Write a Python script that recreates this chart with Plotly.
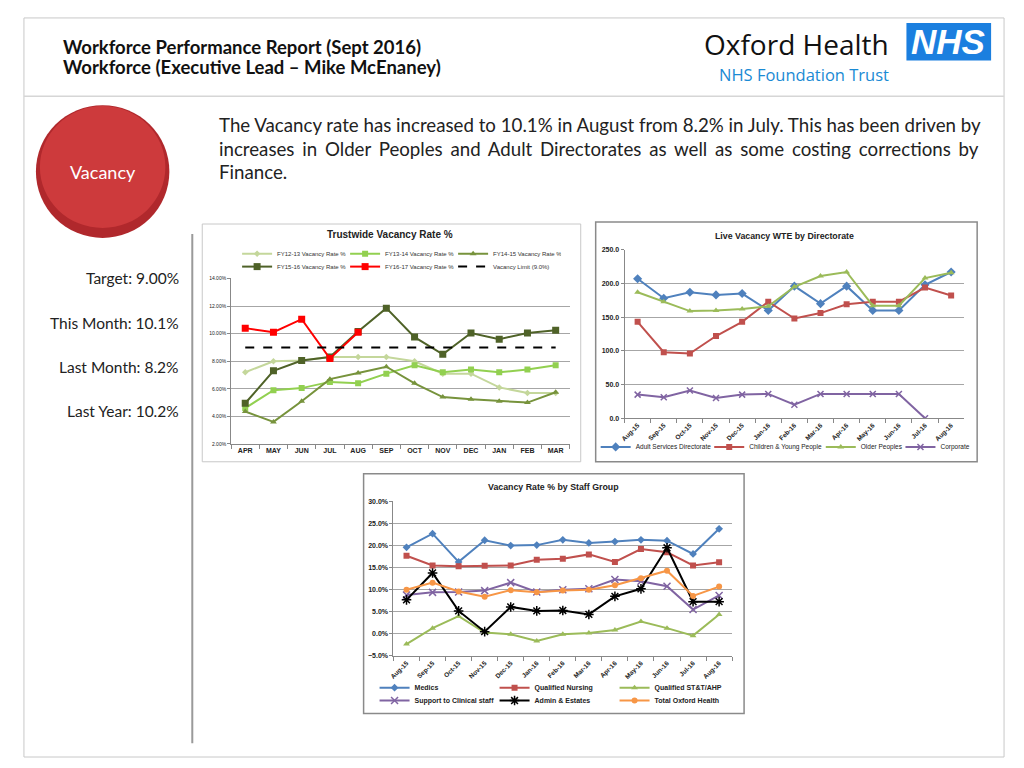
import plotly.graph_objects as go

# page body has an 8px margin, so the figure is drawn 16px smaller and offset
OFF = 8
W, H = 1024 - 2 * OFF, 768 - 2 * OFF

# Trustwide vacancy rate % (financial year months)
fy_months = ['APR', 'MAY', 'JUN', 'JUL', 'AUG', 'SEP', 'OCT', 'NOV', 'DEC', 'JAN', 'FEB', 'MAR']
fy12_13 = [7.2, 8.0, 8.05, 8.3, 8.3, 8.3, 8.0, 7.1, 7.1, 6.1, 5.7, 5.7]
fy13_14 = [4.6, 5.9, 6.05, 6.5, 6.4, 7.1, 7.7, 7.2, 7.4, 7.2, 7.4, 7.7]
fy14_15 = [4.35, 3.6, 5.1, 6.7, 7.15, 7.6, 6.4, 5.4, 5.25, 5.1, 5.0, 5.75]
fy15_16 = [4.95, 7.3, 8.05, 8.3, 10.15, 11.85, 9.75, 8.5, 10.05, 9.6, 10.05, 10.25]
fy16_17 = [10.4, 10.1, 11.05, 8.2, 10.1]
vacancy_limit = 9.0

# Live vacancy WTE by directorate
roll_months = ['Aug-15', 'Sep-15', 'Oct-15', 'Nov-15', 'Dec-15', 'Jan-16', 'Feb-16',
               'Mar-16', 'Apr-16', 'May-16', 'Jun-16', 'Jul-16', 'Aug-16']
adult = [207, 178, 187, 183, 185, 160, 196, 170, 196, 160, 160, 198, 217]
children = [143, 98, 96, 122, 143, 173, 148, 156, 169, 173, 173, 194, 182]
older = [187, 173, 159, 160, 162, 166, 195, 211, 217, 167, 167, 208, 216]
corporate = [35, 31, 41, 30, 35, 36, 20, 36, 36, 36, 36, 0, None]

# Vacancy rate % by staff group
medics = [19.6, 22.7, 16.3, 21.2, 20.0, 20.1, 21.3, 20.6, 20.9, 21.3, 21.1, 18.1, 23.8]
nursing = [17.7, 15.5, 15.3, 15.4, 15.5, 16.8, 17.0, 18.0, 16.3, 19.2, 18.5, 15.5, 16.2]
stt_ahp = [-2.3, 1.3, 4.0, 0.3, -0.1, -1.6, -0.1, 0.2, 0.9, 2.8, 1.3, -0.4, 4.4]
support = [8.8, 9.4, 9.5, 9.8, 11.6, 9.5, 10.0, 10.2, 12.3, 11.9, 10.8, 5.5, 8.7]
admin = [7.7, 13.8, 5.2, 0.5, 6.1, 5.2, 5.3, 4.4, 8.5, 10.2, 19.5, 7.3, 7.3]
total_oh = [10.0, 11.6, 9.6, 8.4, 9.9, 9.4, 9.8, 10.0, 11.0, 12.6, 14.3, 8.6, 10.7]

kpis = ['Target: 9.00%', 'This Month: 10.1%', 'Last Month: 8.2%', 'Last Year: 10.2%']

ARIAL = 'Liberation Sans'
SLIDE = 'Lato'


def px(x):
    return (x - OFF) / W


def py(y):
    return 1 - (y - OFF) / H


def line(fig, name, x, y, color, symbol, axis, legend, size=6, dash='solid', width=2, mline=None):
    marker = dict(symbol=symbol, size=size, color=color)
    if mline:
        marker['line'] = dict(color=mline, width=1.5)
    fig.add_trace(go.Scatter(x=x, y=y, name=name, mode='lines+markers' if symbol else 'lines',
                             line=dict(color=color, width=width, dash=dash),
                             marker=marker, xaxis='x' + axis, yaxis='y' + axis,
                             legend=legend, connectgaps=False))


fig = go.Figure()

# chart 1
line(fig, 'FY12-13 Vacancy Rate %', fy_months, fy12_13, '#c4d79b', 'diamond', '', 'legend', size=5)
line(fig, 'FY13-14 Vacancy Rate %', fy_months, fy13_14, '#92d050', 'square', '', 'legend')
line(fig, 'FY14-15 Vacancy Rate %', fy_months, fy14_15, '#77933c', 'triangle-up', '', 'legend')
line(fig, 'FY15-16 Vacancy Rate %', fy_months, fy15_16, '#4f6228', 'square', '', 'legend4', size=7)
line(fig, 'FY16-17 Vacancy Rate %', fy_months[:len(fy16_17)], fy16_17, '#ff0000', 'square', '', 'legend4', size=7)
line(fig, 'Vacancy Limit (9.0%)', fy_months, [vacancy_limit] * len(fy_months), '#000000', None, '', 'legend4', dash='dash')

# chart 2 (one legend per entry so the row can be packed like the original)
line(fig, 'Adult Services Directorate', roll_months, adult, '#4f81bd', 'diamond', '2', 'legend2', size=7)
line(fig, 'Children & Young People', roll_months, children, '#c0504d', 'square', '2', 'legend6')
line(fig, 'Older Peoples', roll_months, older, '#9bbb59', 'triangle-up', '2', 'legend7')
line(fig, 'Corporate', roll_months, corporate, '#8064a2', 'x-thin-open', '2', 'legend8', mline='#8064a2')

# chart 3
line(fig, 'Medics', roll_months, medics, '#4f81bd', 'diamond', '3', 'legend3')
line(fig, 'Qualified Nursing', roll_months, nursing, '#c0504d', 'square', '3', 'legend3')
line(fig, 'Qualified ST&T/AHP', roll_months, stt_ahp, '#9bbb59', 'triangle-up', '3', 'legend3')
line(fig, 'Support to Clinical staff', roll_months, support, '#8064a2', 'x-thin-open', '3', 'legend5', size=7, mline='#8064a2')
line(fig, 'Admin & Estates', roll_months, admin, '#000000', 'asterisk-open', '3', 'legend5', size=8, mline='#000000')
line(fig, 'Total Oxford Health', roll_months, total_oh, '#f79646', 'circle', '3', 'legend5')

grid = '#a6a6a6'
xbase = dict(type='category', showgrid=False, showline=True, linecolor='#888', linewidth=1,
             ticks='outside', tickson='boundaries', ticklen=4, tickcolor='#888',
             tickfont=dict(family=ARIAL, size=7, color='#222', weight='bold'))
ybase = dict(showgrid=True, gridcolor=grid, gridwidth=1, showline=True, linecolor='#888',
             ticks='outside', ticklen=3, tickcolor='#888', zeroline=False)

fig.update_layout(
    width=W, height=H, margin=dict(l=0, r=0, t=0, b=0),
    paper_bgcolor='white', plot_bgcolor='rgba(0,0,0,0)', showlegend=True,
    xaxis=dict(xbase, domain=[px(228), px(568)], range=[-0.5, 11.5], anchor='y'),
    yaxis=dict(ybase, domain=[py(444), py(277)], range=[2, 14], dtick=2, tickformat='.2f', ticksuffix='%',
               tickfont=dict(family=ARIAL, size=5, color='#222'), anchor='x'),
    xaxis2=dict(xbase, domain=[px(623), px(964)], range=[-0.5, 12.5], anchor='y2', tickangle=-45,
                tickfont=dict(family=ARIAL, size=6.5, color='#222', weight='bold')),
    yaxis2=dict(ybase, domain=[py(418), py(248)], range=[0, 250], dtick=50, tickformat='.1f',
                tickfont=dict(family=ARIAL, size=7, color='#222', weight='bold'), anchor='x2'),
    xaxis3=dict(xbase, domain=[px(391), px(731)], range=[-0.5, 12.5], anchor='y3', tickangle=-45,
                tickfont=dict(family=ARIAL, size=6.5, color='#222', weight='bold')),
    yaxis3=dict(ybase, domain=[py(658), py(502)], range=[-5, 30], dtick=5, tickformat='.1f', ticksuffix='%',
                tickfont=dict(family=ARIAL, size=7, color='#222', weight='bold'), anchor='x3'),
)

leg = dict(orientation='h', xanchor='left', yanchor='middle', bgcolor='rgba(0,0,0,0)',
           itemwidth=30, tracegroupgap=0, itemclick=False)
f1 = dict(family=ARIAL, size=6, color='#333')
f2 = dict(family=ARIAL, size=6.5, color='#222')
f3 = dict(family=ARIAL, size=7, color='#222', weight='bold')
fig.update_layout(
    legend=dict(leg, x=px(234), y=py(252), font=f1, entrywidth=63),
    legend4=dict(leg, x=px(234), y=py(265), font=f1, entrywidth=63),
    legend2=dict(leg, x=px(594), y=py(447), font=f2),
    legend6=dict(leg, x=px(708), y=py(447), font=f2),
    legend7=dict(leg, x=px(820), y=py(447), font=f2),
    legend8=dict(leg, x=px(900), y=py(447), font=f2),
    legend3=dict(leg, x=px(372), y=py(690), font=f3, entrywidth=75),
    legend5=dict(leg, x=px(372), y=py(703), font=f3, entrywidth=75),
)

shapes = [
    dict(type='rect', x0=px(20), x1=px(1004), y0=py(760), y1=py(14), line=dict(color='#c8c8c8', width=1)),
    dict(type='line', x0=px(20), x1=px(1004), y0=py(93), y1=py(93), line=dict(color='#d6d6d6', width=1.5)),
    dict(type='line', x0=px(189), x1=px(189), y0=py(232), y1=py(746), line=dict(color='#9a9a9a', width=2)),
    dict(type='rect', x0=px(906), x1=px(991), y0=py(57), y1=py(19), fillcolor='#1b7fdf', line=dict(width=0)),
    dict(type='circle', x0=px(32), x1=px(166), y0=py(236), y1=py(102), fillcolor='#b0282c', line=dict(width=0)),
    dict(type='circle', x0=px(36), x1=px(162), y0=py(226), y1=py(103), fillcolor='#cd3a3c', line=dict(width=0)),
    dict(type='rect', x0=px(199), x1=px(579), y0=py(462), y1=py(222), line=dict(color='#c8c8c8', width=1)),
    dict(type='rect', x0=px(594), x1=px(977), y0=py(462), y1=py(220), line=dict(color='#8a8a8a', width=1.5)),
    dict(type='rect', x0=px(361), x1=px(743), y0=py(716), y1=py(474), line=dict(color='#8a8a8a', width=1.5)),
]
for s in shapes:
    s.update(xref='paper', yref='paper', layer='below')
fig.update_layout(shapes=shapes)


def text(x, y, t, size, family=SLIDE, color='#222', xanchor='left', bold=False, italic=False):
    fig.add_annotation(x=px(x), y=py(y), xref='paper', yref='paper', text=t, showarrow=False,
                       xanchor=xanchor, yanchor='middle',
                       font=dict(family=family, size=size, color=color,
                                 weight='bold' if bold else 'normal',
                                 style='italic' if italic else 'normal'))


text(57, 43, 'Workforce Performance Report (Sept 2016)', 18.5, bold=True, color='#111')
text(57, 64, 'Workforce (Executive Lead – Mike McEnaney)', 18.5, bold=True, color='#111')
text(701, 40, 'Oxford Health', 28, family='Open Sans', color='#111')
text(716, 71, 'NHS Foundation Trust', 16.5, family='Open Sans', color='#1a8ad4')
text(948, 38, 'NHS', 35, family=ARIAL, color='white', xanchor='center', bold=True, italic=True)
text(99, 169, 'Vacancy', 18, color='white', xanchor='center')

para = ['The Vacancy rate has increased to 10.1% in August from 8.2% in July. This has been driven by',
        '<span style="word-spacing:3px">increases in Older Peoples and Adult Directorates as well as some costing corrections by</span>',
        'Finance.']
for i, t in enumerate(para):
    text(214, 122 + i * 24, t, 18.7)

for i, k in enumerate(kpis):
    text(178, 277 + i * 44.5, k, 15.5, xanchor='right')

text(388, 233, '<b>Trustwide Vacancy Rate %</b>', 10, family=ARIAL, xanchor='center')
text(784, 234, '<b>Live Vacancy WTE by Directorate</b>', 8.8, family=ARIAL, xanchor='center')
text(552, 487, '<b>Vacancy Rate % by Staff Group</b>', 8.8, family=ARIAL, xanchor='center')

fig.write_html('out.html')
